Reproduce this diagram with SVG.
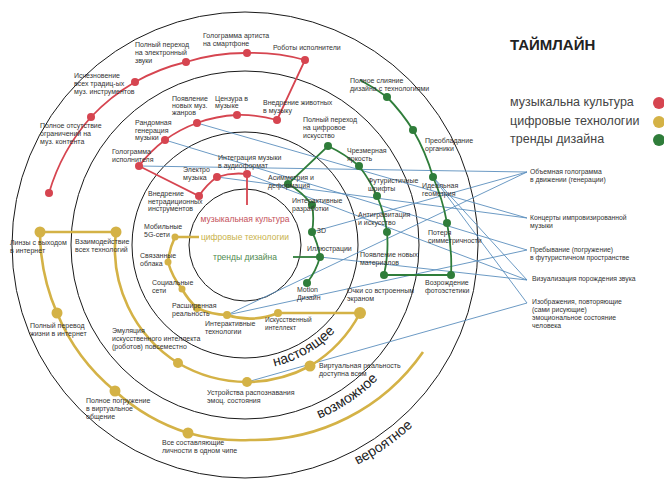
<svg xmlns="http://www.w3.org/2000/svg" width="664" height="479" viewBox="0 0 664 479">
<defs>
<style>
.c{fill:none;stroke:#1a1a1a;stroke-width:1}
.r{fill:none;stroke:#d64550;stroke-width:1.8}
.rd{fill:#d64550}
.y{fill:none;stroke:#d4b246;stroke-width:2.6}
.yd{fill:#d4b246}
.g{fill:none;stroke:#2f7d3a;stroke-width:1.8}
.gd{fill:#2f7d3a}
.b{fill:none;stroke:#5b8fbd;stroke-width:0.9}
text{font-family:"Liberation Sans",Arial,sans-serif}
.t{font-size:7px;fill:#333}
.rt{font-size:6.8px;fill:#333}
.lg{font-size:12.5px;fill:#444}
.ring{font-size:14px;fill:#222}
</style>
</defs>
<rect width="664" height="479" fill="#fff"/>
<g id="rings">
<circle class="c" cx="245" cy="245" r="56"/>
<circle class="c" cx="245" cy="245" r="113"/>
<circle class="c" cx="245" cy="245" r="174"/>
<circle class="c" cx="245" cy="245" r="233"/>
<path id="p1" d="M223,368 A125,125 0 0 0 362.5,288" fill="none"/>
<path id="p2" d="M225,433 A189,189 0 0 0 426.7,297" fill="none"/>
<path id="p3" d="M223.5,491 A247,247 0 0 0 483.6,309" fill="none"/>
<text class="ring"><textPath href="#p1" startOffset="50%" text-anchor="middle">настоящее</textPath></text>
<text class="ring"><textPath href="#p2" startOffset="50%" text-anchor="middle">возможное</textPath></text>
<text class="ring"><textPath href="#p3" startOffset="50%" text-anchor="middle">вероятное</textPath></text>
</g>
<g id="connectors">
<path class="b" d="M139,166 L527,172"/>
<path class="b" d="M312,232 L527,172"/>
<path class="b" d="M227,315 L527,172"/>
<path class="b" d="M197,123 L527,218"/>
<path class="b" d="M217,177 L527,218"/>
<path class="b" d="M165,140 L527,250"/>
<path class="b" d="M227,315 L527,250"/>
<path class="b" d="M247,174 L527,280"/>
<path class="b" d="M320,257 L527,280"/>
<path class="b" d="M433,177 L527,280"/>
<path class="b" d="M433,177 L527,303"/>
<path class="b" d="M247,382 L527,303"/>
<path class="r" d="M49,193 A198,198 0 0 1 91,117 A198,198 0 0 1 135,82 A198,198 0 0 1 186,62 A198,198 0 0 1 247,53 A198,198 0 0 1 305,60 L277,120 A130,130 0 0 0 237,115 A130,130 0 0 0 197,123 A130,130 0 0 0 165,140 A130,130 0 0 0 139,166 L199,196 A70,70 0 0 1 217,177 A70,70 0 0 1 247,174 L247,205"/>
<path class="y" d="M199,237 L175,237 A75,75 0 0 0 168,262 A75,75 0 0 0 182,289 A75,75 0 0 0 197,308 A75,75 0 0 0 227,315 A75,75 0 0 0 278,313 L360,313 A135,135 0 0 1 310,366 A137,137 0 0 1 247,382 A137,137 0 0 1 178,363 A135,135 0 0 1 116,232 L40,232 A205,205 0 0 0 57,313 A200,200 0 0 0 115,391 A196,196 0 0 0 188,433 A196,196 0 0 0 250,440 A205,205 0 0 0 423,352"/>
<path class="g" d="M293,257 L320,257"/>
<path class="g" d="M307,283 A75,75 0 0 0 320,257 A75,75 0 0 0 312,232 A75,75 0 0 0 312,205 A75,75 0 0 0 288,184 L328,146 A140,140 0 0 1 359,166 A140,140 0 0 1 377,196 A140,140 0 0 1 387,232 A140,140 0 0 1 384,275 L451,275 A205,205 0 0 0 447,223 A205,205 0 0 0 433,177 A205,205 0 0 0 413,130 A205,205 0 0 0 387,97 A205,205 0 0 0 360,80"/>
</g>
<g id="center">
<text x="245" y="222" text-anchor="middle" style="font-size:8.5px;fill:#c4505a">музыкальная культура</text>
<text x="245" y="240" text-anchor="middle" style="font-size:8.5px;fill:#c9b24a">цифровые технологии</text>
<text x="245" y="260" text-anchor="middle" style="font-size:8.5px;fill:#4f8a4f">тренды дизайна</text>
</g>
<g id="legend">
<text x="510" y="50" style="font-size:15px;font-weight:bold;fill:#222">ТАЙМЛАЙН</text>
<text class="lg" x="510" y="106">музыкальна культура</text>
<text class="lg" x="510" y="125">цифровые технологии</text>
<text class="lg" x="510" y="143">тренды дизайна</text>
<circle class="rd" cx="659" cy="103" r="6"/>
<circle class="yd" cx="659" cy="122" r="6"/>
<circle class="gd" cx="659" cy="140" r="6"/>
</g>
<g id="red-nodes">
<g id="r0"><circle class="rd" cx="49" cy="193" r="4"/></g>
<g id="r1"><circle class="rd" cx="91" cy="117" r="4"/><text class="t" x="40" y="128">Полное отсутствие<tspan x="40" dy="8">ограничений на</tspan><tspan x="40" dy="8">муз. контента</tspan></text></g>
<g id="r2"><circle class="rd" cx="135" cy="82" r="4"/><text class="t" x="74" y="78">Исчезновение<tspan x="74" dy="8">всех традиц-ых</tspan><tspan x="74" dy="8">муз. инструментов</tspan></text></g>
<g id="r3"><circle class="rd" cx="186" cy="62" r="4"/><text class="t" x="135" y="47">Полный переход<tspan x="135" dy="8">на электронный</tspan><tspan x="135" dy="8">звуки</tspan></text></g>
<g id="r4"><circle class="rd" cx="247" cy="53" r="4"/><text class="t" x="203" y="38">Голограмма артиста<tspan x="203" dy="8">на смартфоне</tspan></text></g>
<g id="r5"><circle class="rd" cx="305" cy="60" r="4"/><text class="t" x="273" y="50">Роботы исполнители</text></g>
<g id="r6"><circle class="rd" cx="277" cy="120" r="4"/><text class="t" x="263" y="105">Внедрение животных<tspan x="263" dy="8">в музыку</tspan></text></g>
<g id="r7"><circle class="rd" cx="237" cy="115" r="4"/><text class="t" x="215" y="101">Цензура в<tspan x="215" dy="7">музыке</tspan></text></g>
<g id="r8"><circle class="rd" cx="197" cy="123" r="4"/><text class="t" x="172" y="101">Появление<tspan x="172" dy="7">новых муз.</tspan><tspan x="172" dy="7">жанров</tspan></text></g>
<g id="r9"><circle class="rd" cx="165" cy="140" r="4"/><text class="t" x="135" y="125">Рандомная<tspan x="135" dy="7.5">генерация</tspan><tspan x="135" dy="7.5">музыки</tspan></text></g>
<g id="r10"><circle class="rd" cx="139" cy="166" r="4"/><text class="t" x="112" y="154">Голограмма<tspan x="112" dy="8">исполнителя</tspan></text></g>
<g id="r11"><circle class="rd" cx="199" cy="196" r="4"/><text class="t" x="148" y="196">Внедрение<tspan x="148" dy="7.5">нетрадиционных</tspan><tspan x="148" dy="7.5">инструментов</tspan></text></g>
<g id="r12"><circle class="rd" cx="217" cy="177" r="4"/><text class="t" x="183" y="172">Электро<tspan x="183" dy="8">музыка</tspan></text></g>
<g id="r13"><circle class="rd" cx="247" cy="174" r="4"/><text class="t" x="218" y="160">Интеграция музыки<tspan x="218" dy="8">в аудиоформат</tspan></text></g>
</g>
<g id="yellow-nodes">
<g id="y1"><circle class="yd" cx="175" cy="237" r="3.5"/><text class="t" x="144" y="229">Мобильные<tspan x="144" dy="8">5G-сети</tspan></text></g>
<g id="y2"><circle class="yd" cx="168" cy="262" r="3.5"/><text class="t" x="140" y="258">Связанные<tspan x="140" dy="7.5">облака</tspan></text></g>
<g id="y3"><circle class="yd" cx="182" cy="289" r="3.5"/><text class="t" x="152" y="285">Социальные<tspan x="152" dy="7.5">сети</tspan></text></g>
<g id="y4"><circle class="yd" cx="197" cy="308" r="4"/><text class="t" x="172" y="308">Расширенная<tspan x="172" dy="8">реальность</tspan></text></g>
<g id="y5"><circle class="yd" cx="227" cy="315" r="4"/><text class="t" x="205" y="326">Интерактивные<tspan x="205" dy="8">технологии</tspan></text></g>
<g id="y6"><circle class="yd" cx="278" cy="313" r="4"/><text class="t" x="265" y="322" style="font-size:6.6px">Искусственный<tspan x="265" dy="8">интеллект</tspan></text></g>
<g id="y7"><circle class="yd" cx="360" cy="313" r="6"/><text class="t" x="347" y="293">Очки со встроенным<tspan x="347" dy="8">экраном</tspan></text></g>
<g id="y8"><circle class="yd" cx="310" cy="366" r="5.5"/><text class="t" x="319" y="368">Виртуальная реальность<tspan x="319" dy="8">доступна всем</tspan></text></g>
<g id="y9"><circle class="yd" cx="247" cy="382" r="5"/><text class="t" x="207" y="395">Устройства распознавания<tspan x="207" dy="8">эмоц. состояния</tspan></text></g>
<g id="y10"><circle class="yd" cx="178" cy="363" r="5"/><text class="t" x="112" y="333">Эмуляция<tspan x="112" dy="8">искусственного интеллекта</tspan><tspan x="112" dy="8">(роботов) повсеместно</tspan></text></g>
<g id="y11"><circle class="yd" cx="116" cy="232" r="5.5"/><text class="t" x="75" y="244">Взаимодействие<tspan x="75" dy="8">всех технологий</tspan></text></g>
<g id="y12"><circle class="yd" cx="40" cy="232" r="5.5"/><text class="t" x="10" y="245">Линзы с выходом<tspan x="10" dy="8">в интернет</tspan></text></g>
<g id="y13"><circle class="yd" cx="57" cy="313" r="5.5"/><text class="t" x="30" y="328">Полный перевод<tspan x="30" dy="8">жизни в интернет</tspan></text></g>
<g id="y14"><circle class="yd" cx="115" cy="391" r="5.5"/><text class="t" x="86" y="403">Полное погружение<tspan x="86" dy="8">в виртуальное</tspan><tspan x="86" dy="8">общение</tspan></text></g>
<g id="y15"><circle class="yd" cx="188" cy="433" r="5.5"/><text class="t" x="162" y="445">Все составляющие<tspan x="162" dy="8">личности в одном чипе</tspan></text></g>
</g>
<g id="green-nodes">
<g id="g1"><circle class="gd" cx="307" cy="283" r="4"/><text class="t" x="297" y="292">Motion<tspan x="297" dy="8">Дизайн</tspan></text></g>
<g id="g2"><circle class="gd" cx="320" cy="257" r="4"/><text class="t" x="307" y="251">Иллюстрации</text></g>
<g id="g3"><circle class="gd" cx="312" cy="232" r="4"/><text class="t" x="317" y="233">3D</text></g>
<g id="g4"><circle class="gd" cx="312" cy="205" r="4"/><text class="t" x="292" y="203">Интерактивные<tspan x="292" dy="8">разработки</tspan></text></g>
<g id="g5"><circle class="gd" cx="288" cy="184" r="4"/><text class="t" x="268" y="180">Асимметрия и<tspan x="268" dy="8">деформация</tspan></text></g>
<g id="g6"><circle class="gd" cx="328" cy="146" r="4"/><text class="t" x="303" y="122">Полный переход<tspan x="303" dy="8">на цифровое</tspan><tspan x="303" dy="8">искусство</tspan></text></g>
<g id="g7"><circle class="gd" cx="359" cy="166" r="4"/><text class="t" x="347" y="153">Чрезмерная<tspan x="347" dy="8">яркость</tspan></text></g>
<g id="g8"><circle class="gd" cx="377" cy="196" r="4"/><text class="t" x="368" y="183">Футуристичные<tspan x="368" dy="8">шрифты</tspan></text></g>
<g id="g9"><circle class="gd" cx="387" cy="232" r="4"/><text class="t" x="358" y="217">Антигравитация<tspan x="358" dy="8">и искусство</tspan></text></g>
<g id="g10"><circle class="gd" cx="384" cy="275" r="4"/><text class="t" x="360" y="257">Появление новых<tspan x="360" dy="7.5">материалов</tspan></text></g>
<g id="g11"><circle class="gd" cx="451" cy="275" r="4"/><text class="t" x="425" y="285">Возрождение<tspan x="425" dy="8">фотоэстетики</tspan></text></g>
<g id="g12"><circle class="gd" cx="447" cy="223" r="4"/><text class="t" x="428" y="235">Потеря<tspan x="428" dy="8">симметричности</tspan></text></g>
<g id="g13"><circle class="gd" cx="433" cy="177" r="4"/><text class="t" x="422" y="188">Идеальная<tspan x="422" dy="8">геометрия</tspan></text></g>
<g id="g14"><circle class="gd" cx="413" cy="130" r="4"/><text class="t" x="425" y="143">Преобладание<tspan x="425" dy="8">органики</tspan></text></g>
<g id="g15"><circle class="gd" cx="387" cy="97" r="4"/><text class="t" x="350" y="83">Полное слияние<tspan x="350" dy="8">дизайна с технологиями</tspan></text></g>
</g>
<g id="outcomes">
<g id="o1"><text class="rt" x="530" y="174">Объемная голограмма<tspan x="530" dy="8">в движении (генерации)</tspan></text></g>
<g id="o2"><text class="rt" x="530" y="220">Концерты импровизированной<tspan x="530" dy="8">музыки</tspan></text></g>
<g id="o3"><text class="rt" x="530" y="252">Пребывание (погружение)<tspan x="530" dy="8">в футуристичном пространстве</tspan></text></g>
<g id="o4"><text class="rt" x="532" y="281">Визуализация порождения звука</text></g>
<g id="o5"><text class="rt" x="532" y="304">Изображения, повторяющие<tspan x="532" dy="8">(сами рисующие)</tspan><tspan x="532" dy="8">эмоциональное состояние</tspan><tspan x="532" dy="8">человека</tspan></text></g>
</g>
</svg>
